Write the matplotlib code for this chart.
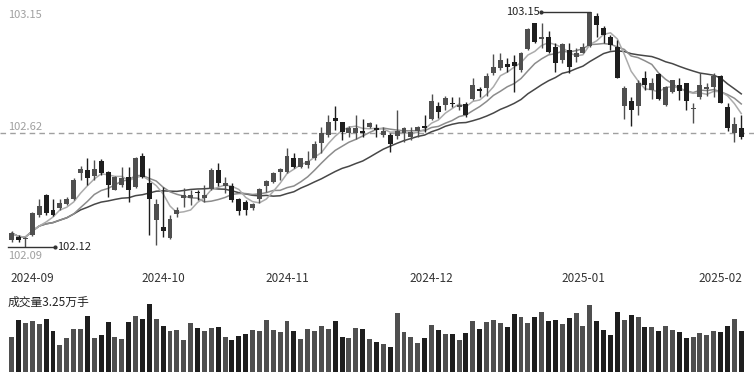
import numpy as np
import pandas as pd
import matplotlib
matplotlib.use('Agg')
import matplotlib.pyplot as plt
import matplotlib.transforms as mtransforms

plt.rcParams['font.family'] = ['Noto Sans CJK SC', 'DejaVu Sans']

# 日K数据 (2024-08-28 ~ 2025-02-12)
opens = [102.151, 102.166, 102.153, 102.173, 102.260, 102.348, 102.280, 102.291, 102.308, 102.330,
         102.444, 102.457, 102.431, 102.497, 102.449, 102.370, 102.392, 102.427, 102.383, 102.519,
         102.400, 102.238, 102.208, 102.159, 102.265, 102.335, 102.335, 102.361, 102.335, 102.374,
         102.457, 102.387, 102.387, 102.330, 102.317, 102.291, 102.330, 102.387, 102.405, 102.449,
         102.449, 102.510, 102.471, 102.479, 102.510, 102.576, 102.611, 102.685, 102.668, 102.620,
         102.620, 102.628, 102.646, 102.642, 102.611, 102.611, 102.607, 102.620, 102.602, 102.628,
         102.650, 102.681, 102.738, 102.742, 102.751, 102.734, 102.747, 102.769, 102.812, 102.817,
         102.883, 102.905, 102.922, 102.931, 102.896, 102.988, 103.102, 103.032, 103.040, 102.997,
         102.940, 102.983, 102.953, 102.970, 103.001, 103.133, 103.080, 103.040, 102.997, 102.738,
         102.760, 102.738, 102.861, 102.808, 102.878, 102.742, 102.799, 102.830, 102.839, 102.727,
         102.777, 102.812, 102.821, 102.870, 102.734, 102.620, 102.642]
highs = [102.190, 102.173, 102.164, 102.273, 102.330, 102.352, 102.330, 102.330, 102.339, 102.422,
         102.475, 102.510, 102.501, 102.506, 102.453, 102.431, 102.471, 102.471, 102.514, 102.532,
         102.466, 102.330, 102.383, 102.260, 102.295, 102.379, 102.370, 102.370, 102.392, 102.466,
         102.488, 102.427, 102.400, 102.335, 102.326, 102.313, 102.379, 102.414, 102.449, 102.466,
         102.554, 102.532, 102.510, 102.541, 102.585, 102.646, 102.699, 102.738, 102.668, 102.650,
         102.699, 102.681, 102.668, 102.659, 102.646, 102.620, 102.720, 102.646, 102.646, 102.650,
         102.699, 102.791, 102.756, 102.782, 102.777, 102.777, 102.756, 102.861, 102.821, 102.883,
         102.966, 102.970, 102.948, 102.962, 102.975, 103.080, 103.102, 103.102, 103.067, 103.014,
         103.014, 103.014, 102.992, 103.014, 103.150, 103.146, 103.089, 103.049, 103.027, 102.826,
         102.777, 102.852, 102.891, 102.861, 102.883, 102.826, 102.852, 102.861, 102.839, 102.751,
         102.883, 102.839, 102.883, 102.874, 102.751, 102.690, 102.699]
lows = [102.142, 102.142, 102.120, 102.168, 102.251, 102.260, 102.256, 102.282, 102.304, 102.326,
        102.414, 102.392, 102.414, 102.436, 102.339, 102.368, 102.383, 102.317, 102.379, 102.422,
        102.173, 102.129, 102.164, 102.155, 102.251, 102.295, 102.304, 102.326, 102.317, 102.370,
        102.387, 102.357, 102.317, 102.260, 102.260, 102.282, 102.313, 102.361, 102.400, 102.414,
        102.444, 102.466, 102.466, 102.466, 102.501, 102.532, 102.602, 102.633, 102.589, 102.602,
        102.593, 102.602, 102.642, 102.602, 102.602, 102.536, 102.593, 102.580, 102.589, 102.602,
        102.624, 102.677, 102.685, 102.720, 102.734, 102.720, 102.690, 102.764, 102.777, 102.782,
        102.874, 102.896, 102.887, 102.799, 102.887, 102.983, 103.014, 102.992, 102.970, 102.887,
        102.926, 102.883, 102.931, 102.970, 102.997, 103.040, 103.014, 102.983, 102.861, 102.681,
        102.650, 102.699, 102.808, 102.769, 102.764, 102.738, 102.795, 102.764, 102.720, 102.664,
        102.769, 102.782, 102.777, 102.751, 102.628, 102.580, 102.593]
closes = [102.181, 102.151, 102.159, 102.269, 102.300, 102.269, 102.260, 102.313, 102.330, 102.414,
          102.462, 102.422, 102.462, 102.444, 102.392, 102.427, 102.422, 102.370, 102.510, 102.427,
          102.330, 102.308, 102.190, 102.243, 102.282, 102.348, 102.348, 102.355, 102.348, 102.457,
          102.400, 102.400, 102.326, 102.278, 102.282, 102.308, 102.374, 102.409, 102.444, 102.462,
          102.519, 102.471, 102.510, 102.497, 102.571, 102.620, 102.668, 102.672, 102.624, 102.642,
          102.642, 102.620, 102.664, 102.633, 102.628, 102.571, 102.628, 102.642, 102.624, 102.646,
          102.642, 102.760, 102.712, 102.773, 102.747, 102.742, 102.699, 102.830, 102.804, 102.870,
          102.909, 102.940, 102.909, 102.913, 102.970, 103.075, 103.019, 103.040, 102.975, 102.926,
          103.010, 102.909, 102.970, 102.997, 103.150, 103.093, 103.049, 103.005, 102.861, 102.817,
          102.720, 102.839, 102.830, 102.839, 102.769, 102.821, 102.852, 102.804, 102.760, 102.731,
          102.830, 102.821, 102.870, 102.751, 102.642, 102.659, 102.602]
# 成交量 (万手)
volumes = [2.75, 4.06, 3.85, 4.04, 3.77, 4.14, 3.20, 2.15, 2.70, 3.35,
           3.35, 4.40, 2.65, 2.94, 3.96, 2.75, 2.57, 3.91, 4.38, 4.19,
           5.32, 4.14, 3.59, 3.22, 3.30, 2.49, 3.85, 3.43, 3.22, 3.49,
           3.51, 2.75, 2.54, 2.80, 3.01, 3.28, 3.20, 4.06, 3.28, 3.12,
           4.01, 3.20, 2.59, 3.41, 3.22, 3.59, 3.38, 3.98, 2.73, 2.67,
           3.46, 3.38, 2.62, 2.36, 2.18, 1.97, 4.64, 3.15, 2.73, 2.28,
           2.67, 3.70, 3.33, 2.99, 3.01, 2.49, 3.07, 4.04, 3.38, 3.96,
           4.11, 3.88, 3.54, 4.53, 4.32, 3.85, 4.32, 4.69, 3.98, 4.06,
           3.80, 4.22, 4.64, 3.64, 5.24, 3.98, 3.28, 2.88, 4.74, 4.06,
           4.48, 4.32, 3.56, 3.51, 3.20, 3.59, 3.33, 3.17, 2.70, 2.75,
           3.04, 2.91, 3.25, 3.17, 3.59, 4.14, 3.25]

month_idx = [3, 22, 40, 61, 83, 101]
month_labels = ['2024-09', '2024-10', '2024-11', '2024-12', '2025-01', '2025-02']
axis_prices = [103.15, 102.62, 102.09]
vol_label = '成交量3.25万手'

UP = '#4f4f4f'
DOWN = '#1e1e1e'

df = pd.DataFrame({'open': opens, 'high': highs, 'low': lows, 'close': closes, 'vol': volumes})
x = np.arange(len(df))
up = df['close'] >= df['open']
colors = np.where(up, UP, DOWN)

fig = plt.figure(figsize=(7.54, 3.79), dpi=100)
ax = fig.add_axes([0, 114 / 379, 1, 265 / 379])
axv = fig.add_axes([0, 7 / 379, 1, 82 / 379])

# 均线
for n, c in [(20, '#474747'), (10, '#8c8c8c'), (5, '#ababab')]:
    ma = df['close'].rolling(n, min_periods=1).mean()
    ax.plot(x, ma, color=c, lw=1.1, zorder=1)

# K线
ax.vlines(x, df['low'], df['high'], color=colors, lw=1, zorder=2)
body = (df['close'] - df['open']).abs().clip(lower=0.004)
bottom = df[['open', 'close']].min(axis=1)
ax.bar(x, body, bottom=bottom, width=0.72, color=colors, zorder=3)

ax.axhline(axis_prices[1], color='#a0a0a0', lw=1, ls=(0, (4, 3)), zorder=0)

ax.set_xlim(-1.70, 107.85)
ax.set_ylim(102.0411, 103.2026)
for s in ax.spines.values():
    s.set_visible(False)
ax.set_yticks([])
ax.set_xticks(month_idx)
ax.set_xticklabels(month_labels, fontsize=8.5, color='#333333')
ax.tick_params(axis='x', length=0, pad=5)
last = ax.get_xticklabels()[-1]
last.set_transform(last.get_transform() + mtransforms.ScaledTranslation(0.135, 0, fig.dpi_scale_trans))

# 纵轴刻度文字
for val, dy in zip(axis_prices, [-2.5, 4.5, -1.5]):
    ax.annotate(f'{val:.2f}', xy=(8 / 754, val), xycoords=('axes fraction', 'data'),
                xytext=(0, dy), textcoords='offset points', va='center', ha='left',
                fontsize=8, color='#a0a0a0')

# 最高 / 最低 标注
hi = int(df['high'].idxmax())
ax.plot([hi - 7.1, hi], [df['high'][hi]] * 2, color='#333333', lw=1, zorder=4)
ax.plot(hi - 7.1, df['high'][hi], 'o', ms=2, color='#333333', zorder=4)
ax.text(hi - 7.3, df['high'][hi], f"{df['high'][hi]:.2f}", ha='right', va='center',
        fontsize=8, color='#222222')
lo = int(df['low'].idxmin())
ax.plot([-0.55, 6.3], [df['low'][lo]] * 2, color='#333333', lw=1, zorder=4)
ax.plot(6.3, df['low'][lo], 'o', ms=2, color='#333333', zorder=4)
ax.text(6.6, df['low'][lo], f"{df['low'][lo]:.2f}", ha='left', va='center',
        fontsize=8, color='#222222')

# 成交量
axv.bar(x, df['vol'], width=0.72, color=colors)
axv.set_xlim(-1.70, 107.85)
axv.set_ylim(0, 6.45)
axv.axis('off')
fig.text(8 / 754, 1 - 302 / 379, vol_label, ha='left', va='center', fontsize=8.5, color='#222222')

fig.savefig('out.png', dpi=100)
